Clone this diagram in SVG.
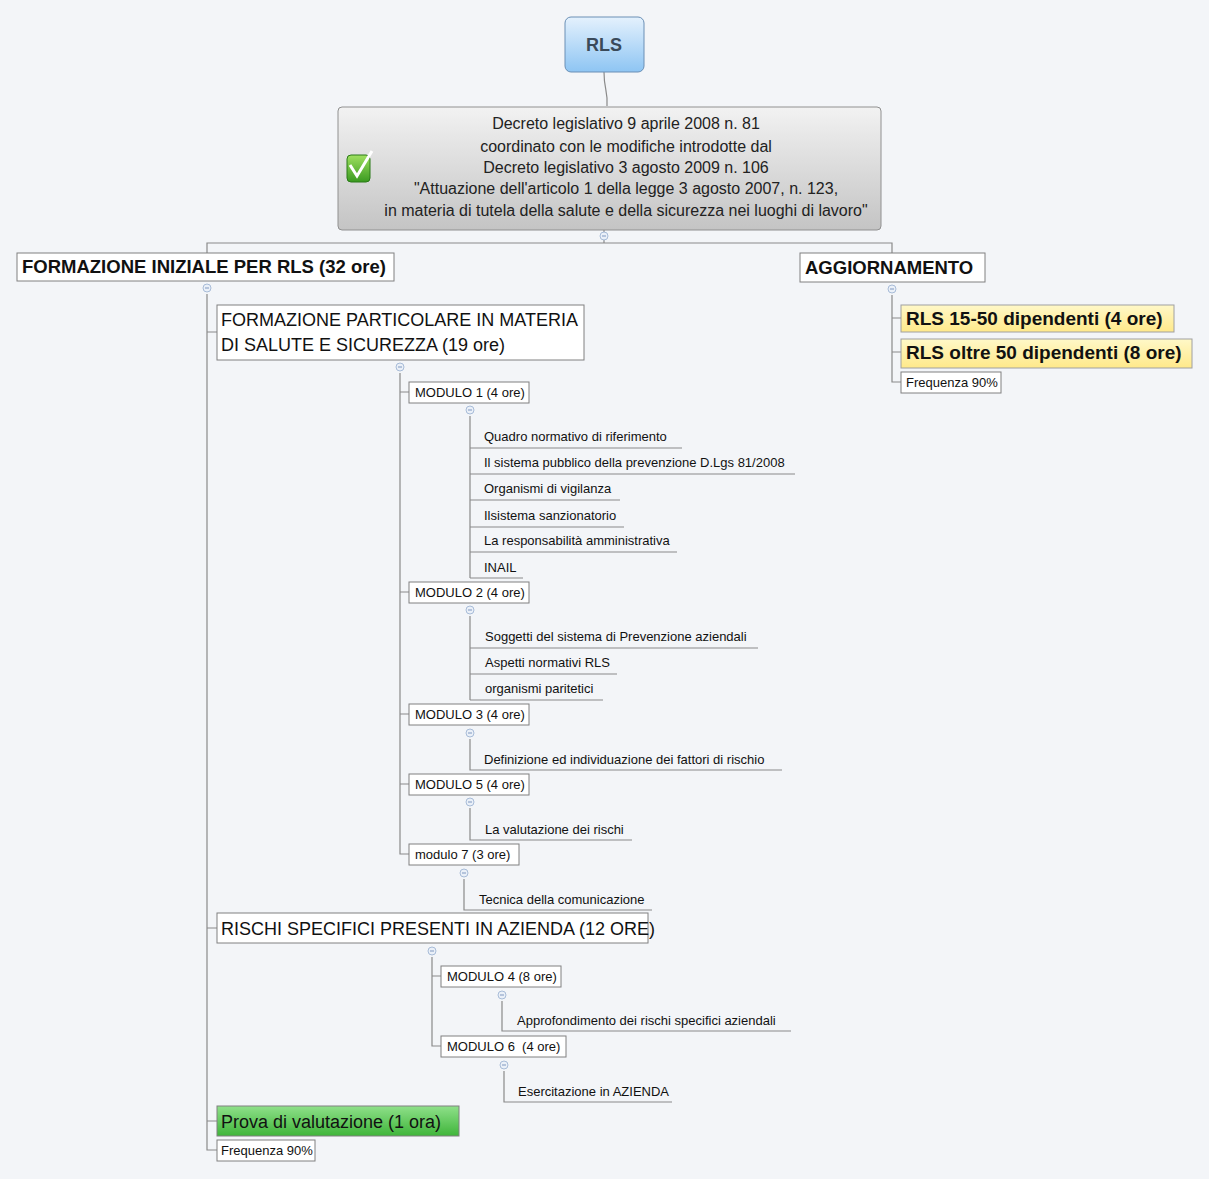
<svg xmlns="http://www.w3.org/2000/svg" width="1209" height="1179" viewBox="0 0 1209 1179">
<defs>
<linearGradient id="gBlue" x1="0" y1="0" x2="0" y2="1"><stop offset="0" stop-color="#e4f1fd"/><stop offset="1" stop-color="#8ec5f3"/></linearGradient>
<linearGradient id="gGray" x1="0" y1="0" x2="0" y2="1"><stop offset="0" stop-color="#f2f2f2"/><stop offset="1" stop-color="#c4c4c4"/></linearGradient>
<linearGradient id="gGreen" x1="0" y1="0" x2="0" y2="1"><stop offset="0" stop-color="#8fe08a"/><stop offset="1" stop-color="#3fb53a"/></linearGradient>
<linearGradient id="gYel" x1="0" y1="0" x2="0" y2="1"><stop offset="0" stop-color="#fff8c8"/><stop offset="1" stop-color="#ffe98a"/></linearGradient>
<linearGradient id="gChk" x1="0" y1="0" x2="0" y2="1"><stop offset="0" stop-color="#9fe060"/><stop offset="1" stop-color="#3a9a20"/></linearGradient>
<g id="col"><circle r="4" fill="#eaf0f8" stroke="#a8bcd8" stroke-width="1"/><line x1="-2" y1="0" x2="2" y2="0" stroke="#8098c0" stroke-width="1"/></g>
</defs>
<style>
text{font-family:"Liberation Sans",Arial,sans-serif;fill:#111}
.box{fill:#fff;stroke:#808080;stroke-width:1}
.s{font-size:13px}
.l{font-size:18px}
.b{font-size:18.5px;font-weight:bold}
.y{font-size:19px;font-weight:bold}
.m{font-size:16px;fill:#222}
.ln{stroke:#8a8a8a;stroke-width:1.2;fill:none}
</style>
<rect width="1209" height="1179" fill="#f3f5f8"/>
<g id="connectors" class="ln">
<path d="M604,72 C604,90 608,90 607,106"/>
<path d="M604,230 V243 M207,253 V243 H892 V253"/>
<path d="M207,294 V1150 H217 M207,332 H217 M207,928 H217 M207,1121 H217"/>
<path d="M400,373 V854 H409 M400,392 H409 M400,592 H409 M400,714 H409 M400,784 H409"/>
<path d="M470,416 V578 M470,448 H682 M470,474 H795 M470,500 H620 M470,527 H624 M470,552 H677 M470,578 H523"/>
<path d="M470,616 V700 M470,648 H758 M470,674 H617 M470,700 H603"/>
<path d="M470,739 V770 H782"/>
<path d="M470,808 V840 H632"/>
<path d="M464,879 V910 H652"/>
<path d="M432,957 V1046 H441 M432,976 H441"/>
<path d="M502,1001 V1031 H791"/>
<path d="M504,1071 V1102 H672"/>
<path d="M892,295 V382 H901 M892,318 H901 M892,352 H901"/>
</g>
<g id="rls"><rect x="565" y="17" width="79" height="55" rx="6" fill="url(#gBlue)" stroke="#6a8fb5"/><text x="604" y="51" text-anchor="middle" style="font-size:18px;font-weight:bold;fill:#3a4a5a">RLS</text></g>
<g id="decreto"><rect x="338" y="107" width="543" height="123" rx="4" fill="url(#gGray)" stroke="#909090"/>
<rect x="347" y="155" width="23" height="27" rx="4" fill="url(#gChk)" stroke="#2a7a18"/><path d="M350,165 L357,176 L372,151" stroke="#fff" stroke-width="3" fill="none"/>
<text class="m" text-anchor="middle"><tspan x="626" y="129">Decreto legislativo 9 aprile 2008 n. 81</tspan><tspan x="626" y="152">coordinato con le modifiche introdotte dal</tspan><tspan x="626" y="173">Decreto legislativo 3 agosto 2009 n. 106</tspan><tspan x="626" y="194">"Attuazione dell'articolo 1 della legge 3 agosto 2007, n. 123,</tspan><tspan x="626" y="216">in materia di tutela della salute e della sicurezza nei luoghi di lavoro"</tspan></text></g>
<g id="fi"><rect class="box" x="17" y="253" width="377" height="28"/><text class="b" x="22" y="273">FORMAZIONE INIZIALE PER RLS (32 ore)</text></g>
<g id="agg"><rect class="box" x="800" y="253" width="185" height="29"/><text class="b" x="805" y="274">AGGIORNAMENTO</text></g>
<g id="fp"><rect class="box" x="217" y="305" width="367" height="55"/><text class="l"><tspan x="221" y="326">FORMAZIONE PARTICOLARE IN MATERIA</tspan><tspan x="221" y="351">DI SALUTE E SICUREZZA (19 ore)</tspan></text></g>
<g id="m1"><rect class="box" x="409" y="382" width="120" height="21"/><text class="s" x="415" y="397">MODULO 1 (4 ore)</text></g>
<g id="m1l"><text class="s" x="484" y="441">Quadro normativo di riferimento</text><text class="s" x="484" y="467">Il sistema pubblico della prevenzione D.Lgs 81/2008</text><text class="s" x="484" y="493">Organismi di vigilanza</text><text class="s" x="484" y="520">Ilsistema sanzionatorio</text><text class="s" x="484" y="545">La responsabilità amministrativa</text><text class="s" x="484" y="572">INAIL</text></g>
<g id="m2"><rect class="box" x="409" y="582" width="120" height="21"/><text class="s" x="415" y="597">MODULO 2 (4 ore)</text></g>
<g id="m2l"><text class="s" x="485" y="641">Soggetti del sistema di Prevenzione aziendali</text><text class="s" x="485" y="667">Aspetti normativi RLS</text><text class="s" x="485" y="693">organismi paritetici</text></g>
<g id="m3"><rect class="box" x="409" y="704" width="120" height="21"/><text class="s" x="415" y="719">MODULO 3 (4 ore)</text><text class="s" x="484" y="764">Definizione ed individuazione dei fattori di rischio</text></g>
<g id="m5"><rect class="box" x="409" y="774" width="120" height="21"/><text class="s" x="415" y="789">MODULO 5 (4 ore)</text><text class="s" x="485" y="834">La valutazione dei rischi</text></g>
<g id="m7"><rect class="box" x="409" y="844" width="110" height="21"/><text class="s" x="415" y="859">modulo 7 (3 ore)</text><text class="s" x="479" y="904">Tecnica della comunicazione</text></g>
<g id="rs"><rect class="box" x="217" y="913" width="431" height="30"/><text class="l" x="221" y="935">RISCHI SPECIFICI PRESENTI IN AZIENDA (12 ORE)</text></g>
<g id="m4"><rect class="box" x="441" y="966" width="120" height="21"/><text class="s" x="447" y="981">MODULO 4 (8 ore)</text><text class="s" x="517" y="1025">Approfondimento dei rischi specifici aziendali</text></g>
<g id="m6"><rect class="box" x="441" y="1036" width="125" height="21"/><text class="s" x="447" y="1051" xml:space="preserve">MODULO 6  (4 ore)</text><text class="s" x="518" y="1096">Esercitazione in AZIENDA</text></g>
<g id="prova"><rect x="217" y="1106" width="242" height="30" fill="url(#gGreen)" stroke="#808080"/><text class="l" x="221" y="1128">Prova di valutazione (1 ora)</text></g>
<g id="freq1"><rect class="box" x="217" y="1140" width="98" height="21"/><text class="s" x="221" y="1155">Frequenza 90%</text></g>
<g id="r1"><rect x="901" y="305" width="273" height="27" fill="url(#gYel)" stroke="#a0a0a0"/><text class="y" x="906" y="325">RLS 15-50 dipendenti (4 ore)</text></g>
<g id="r2"><rect x="901" y="339" width="291" height="29" fill="url(#gYel)" stroke="#a0a0a0"/><text class="y" x="906" y="359">RLS oltre 50 dipendenti (8 ore)</text></g>
<g id="freq2"><rect class="box" x="901" y="372" width="100" height="21"/><text class="s" x="906" y="387">Frequenza 90%</text></g>
<g id="collapse">
<use href="#col" x="604" y="236"/><use href="#col" x="207" y="288"/><use href="#col" x="892" y="289"/><use href="#col" x="400" y="367"/><use href="#col" x="470" y="410"/><use href="#col" x="470" y="610"/><use href="#col" x="470" y="733"/><use href="#col" x="470" y="802"/><use href="#col" x="464" y="873"/><use href="#col" x="432" y="951"/><use href="#col" x="502" y="995"/><use href="#col" x="504" y="1065"/>
</g>
</svg>
